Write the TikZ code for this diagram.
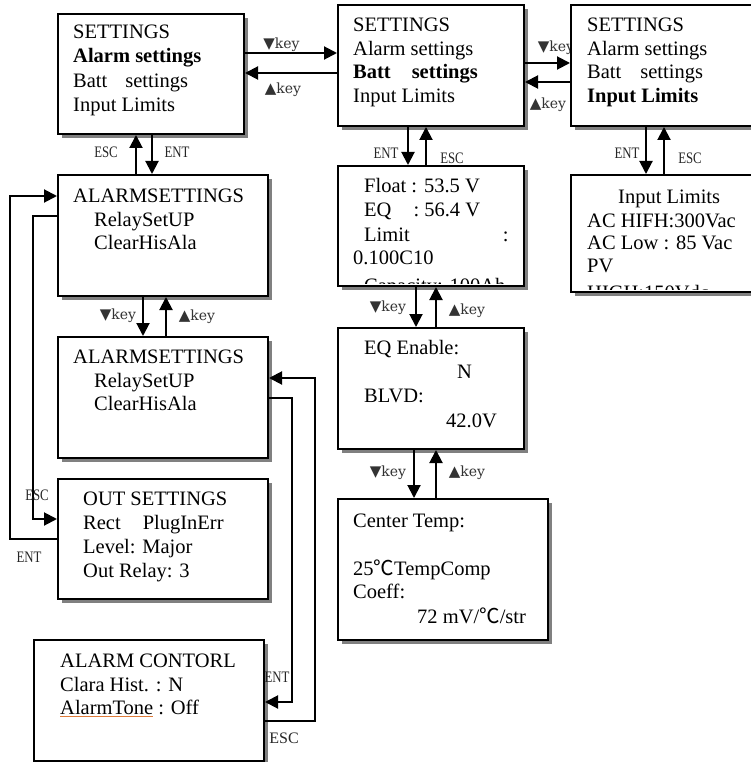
\documentclass[tikz,border=0pt]{standalone}
\usepackage{fontspec}
\setmainfont{Liberation Serif}
\newfontfamily\condfont[FakeStretch=0.8]{Liberation Serif}
\newfontfamily\keyfont{DejaVu Serif}
\newfontfamily\symfont{DejaVu Sans}
\newfontfamily\cjkfont{Noto Sans CJK SC}
\usetikzlibrary{arrows.meta,shadows}
\definecolor{ulc}{HTML}{E07B39}
\newcommand\kdown{{\symfont\fontsize{15}{15}\selectfont ▼}}
\newcommand\kup{{\symfont\fontsize{15}{15}\selectfont ▲}}
\newcommand\degc{{\cjkfont ℃}}
\newcommand\oul[1]{\setbox0\hbox{#1}\rlap{\color{ulc}\rule[-3pt]{\wd0}{0.8pt}}\box0\relax}
\begin{document}
\begin{tikzpicture}[x=1pt,y=-1pt,
  box/.style={draw, line width=2pt, fill=white, rectangle, inner sep=0pt, anchor=north west,
    drop shadow={shadow xshift=4pt, shadow yshift=-4pt, fill=black!50, opacity=1}},
  txt/.style={anchor=base west, inner sep=0pt, font=\fontsize{20.5}{24}\selectfont},
  arr/.style={line width=2pt, -{Triangle[length=13pt,width=13pt]}},
  keylab/.style={inner sep=0pt, text=black!80, font=\keyfont\fontsize{14}{14}\selectfont},
  cond/.style={inner sep=0pt, text=black!85, font=\condfont\fontsize{16}{16}\selectfont},
  esclab/.style={inner sep=0pt, text=black!85, font=\fontsize{16}{16}\selectfont}]
\useasboundingbox (0,0) rectangle (751,762);
\clip (0,0) rectangle (751,762);

% label partly hidden by box C
\node[keylab] (L3) at (556,48) {\kdown key};

% boxes
\node[box, minimum width=186pt, minimum height=120pt] (A) at (57,13) {};
\node[box, minimum width=186pt, minimum height=121pt] (B) at (337,4) {};
\node[box, minimum width=200pt, minimum height=121pt] (C) at (570,4) {};
\node[box, minimum width=210pt, minimum height=121pt] (D) at (57,174) {};
\node[box, minimum width=210pt, minimum height=121pt] (E) at (57,336) {};
\node[box, minimum width=210pt, minimum height=120pt] (F) at (57,478) {};
\node[box, minimum width=230pt, minimum height=121pt] (G) at (33,639) {};
\node[box, minimum width=186pt, minimum height=120pt] (H) at (337,165) {};
\node[box, minimum width=186pt, minimum height=121pt] (I) at (337,327) {};
\node[box, minimum width=210pt, minimum height=141pt] (J) at (337,498) {};
\node[box, minimum width=200pt, minimum height=117pt] (K) at (570,174) {};

% texts
\node[txt] (A1) at (73,39) {SETTINGS};
\node[txt] (A2) at (73,63) {\bfseries Alarm settings};
\node[txt] (A3) at (73,88) {Batt\hspace{18pt}settings};
\node[txt] (A4) at (73,112) {Input Limits};

\node[txt] (B1) at (353,32) {SETTINGS};
\node[txt] (B2) at (353,55.5) {Alarm settings};
\node[txt] (B3) at (353,79) {\bfseries Batt\hspace{21pt}settings};
\node[txt] (B4) at (353,102.5) {Input Limits};

\node[txt] (C1) at (587,32) {SETTINGS};
\node[txt] (C2) at (587,55.5) {Alarm settings};
\node[txt] (C3) at (587,79) {Batt\hspace{19pt}settings};
\node[txt] (C4) at (587,102.5) {\bfseries Input Limits};

\node[txt] (D1) at (73,202) {ALARMSETTINGS};
\node[txt] (D2) at (94,226) {RelaySetUP};
\node[txt] (D3) at (94,249) {ClearHisAla};

\node[txt] (E1) at (73,363) {ALARMSETTINGS};
\node[txt] (E2) at (94,387) {RelaySetUP};
\node[txt] (E3) at (94,410) {ClearHisAla};

\node[txt] (F1) at (83,505) {OUT SETTINGS};
\node[txt] (F2) at (83,529) {Rect\hspace{22pt}PlugInErr};
\node[txt] (F3) at (83,553) {Level: Major};
\node[txt] (F4) at (83,577) {Out Relay: 3};

\node[txt] (G1) at (60,667) {ALARM CONTORL};
\node[txt] (G2) at (60,691) {Clara Hist. : N};
\node[txt] (G3) at (60,714) {\oul{AlarmTone} : Off};

\node[txt] (H1) at (364,193) {Float : 53.5 V};
\node[txt] (H2) at (364,216) {EQ\hspace{22pt}: 56.4 V};
\node[txt] (H3) at (364,241) {Limit\hspace{93pt}:};
\node[txt] (H4) at (353,264) {0.100C10};
\begin{scope}
  \clip (338,166) rectangle (522,283);
  \node[txt] (H5) at (364,292) {Capacity: 100Ah};
\end{scope}

\node[txt] (I1) at (364,354) {EQ Enable:};
\node[txt] (I2) at (457,378) {N};
\node[txt] (I3) at (364,402) {BLVD:};
\node[txt] (I4) at (446,427) {42.0V};

\node[txt] (J1) at (353,527) {Center Temp:};
\node[txt] (J2) at (353,575) {25\degc TempComp};
\node[txt] (J3) at (353,598) {Coeff:};
\node[txt] (J4) at (417,623) {72 mV/\degc/str};

\node[txt] (K1) at (618,203) {Input Limits};
\node[txt] (K2) at (587,227) {AC HIFH:300Vac};
\node[txt] (K3) at (587,249) {AC Low : 85 Vac};
\node[txt] (K4) at (587,272) {PV};
\begin{scope}
  \clip (571,175) rectangle (760,289);
  \node[txt] (K5) at (587,299) {HIGH:150Vdc};
\end{scope}

% horizontal connectors
\draw[arr] ([yshift=21pt]A.east) -- ([yshift=21pt]A.east -| B.west);
\draw[arr] ([yshift=1pt]A.east -| B.west) -- ([yshift=1pt]A.east);
\draw[arr] ([yshift=2.5pt]B.east) -- ([yshift=2.5pt]B.east -| C.west);
\draw[arr] ([yshift=-16.5pt]B.east -| C.west) -- ([yshift=-16.5pt]B.east);

% vertical connectors
\draw[arr] ([xshift=-15pt]A.south |- D.north) -- ([xshift=-15pt]A.south);
\draw[arr] ([xshift=1pt]A.south) -- ([xshift=1pt]A.south |- D.north);
\draw[arr] ([xshift=-20pt]D.south) -- ([xshift=-20pt]D.south |- E.north);
\draw[arr] ([xshift=3pt]D.south |- E.north) -- ([xshift=3pt]D.south);
\draw[arr] ([xshift=-23pt]B.south) -- ([xshift=-23pt]B.south |- H.north);
\draw[arr] ([xshift=-5pt]B.south |- H.north) -- ([xshift=-5pt]B.south);
\draw[arr] ([xshift=-15pt]H.south) -- ([xshift=-15pt]H.south |- I.north);
\draw[arr] ([xshift=5pt]H.south |- I.north) -- ([xshift=5pt]H.south);
\draw[arr] ([xshift=-17pt]I.south) -- ([xshift=-17pt]I.south |- J.north);
\draw[arr] ([xshift=5pt]I.south |- J.north) -- ([xshift=5pt]I.south);
\draw[arr] ([xshift=-25pt]C.south) -- ([xshift=-25pt]C.south |- K.north);
\draw[arr] ([xshift=-7pt]C.south |- K.north) -- ([xshift=-7pt]C.south);

% loops
\draw[arr] (F.west) -- ++(-47,0) |- ([yshift=39.5pt]D.west);
\draw[arr] ([yshift=19.5pt]D.west) -- ++(-24,0) |- ([yshift=20pt]F.west);
\draw[arr] (E.east) -- ++(23,0) |- ([yshift=-1.5pt]G.east);
\draw[arr] ([yshift=-20.5pt]G.east) -- ++(50,0) |- ([yshift=19.5pt]E.east);

% labels
\node[keylab] (L1) at (281.5,45) {\kdown key};
\node[keylab] (L2) at (283,90) {\kup key};
\node[keylab] (L4) at (548,105) {\kup key};
\node[cond] (L5) at (106,152) {ESC};
\node[cond] (L6) at (177,152) {ENT};
\node[keylab] (L7) at (118,316) {\kdown key};
\node[keylab] (L8) at (197,317) {\kup key};
\node[cond] (L9) at (386,153) {ENT};
\node[cond] (L10) at (452,158) {ESC};
\node[cond] (L11) at (627,153) {ENT};
\node[cond] (L12) at (690,158) {ESC};
\node[keylab] (L13) at (388,308) {\kdown key};
\node[keylab] (L14) at (467,311) {\kup key};
\node[keylab] (L15) at (388,473) {\kdown key};
\node[keylab] (L16) at (467,473) {\kup key};
\node[cond] (L17) at (37,495) {ESC};
\node[cond] (L18) at (29,557) {ENT};
\node[cond] (L19) at (277,677) {ENT};
\node[esclab] (L20) at (284,738) {ESC};
\end{tikzpicture}
\end{document}
